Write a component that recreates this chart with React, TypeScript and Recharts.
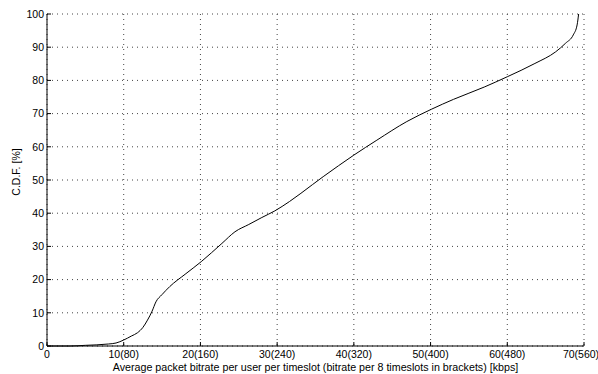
import React from 'react';
import { LineChart, Line, XAxis, YAxis, CartesianGrid, Label } from 'recharts';

// bitrate per user per timeslot [kbps]
const bitrate = [0, 3, 5, 8, 9, 10, 11, 11.8, 12.5, 13.1, 13.7, 14.2, 15, 16, 18, 20.1, 22.8, 24.5, 26.3, 28, 29.7, 31.6, 34.6, 36, 38, 40, 43, 46.9, 50.1, 53, 57, 60, 63.6, 66.3, 67.6, 68.6, 69.1, 69.3];
// C.D.F. [%]
const cdf = [0, 0, 0.2, 0.6, 0.9, 1.8, 3, 4, 5.6, 7.8, 10.5, 13.3, 15.5, 17.9, 21.6, 25.4, 30.9, 34.4, 36.6, 38.7, 40.7, 43.5, 48.6, 51, 54.3, 57.5, 62, 67.6, 71.3, 74.3, 78, 81.1, 85.1, 88.6, 91.2, 93.7, 96.7, 100];

const xTicks = [0, 10, 20, 30, 40, 50, 60, 70];
const xTickLabels = ['0', '10(80)', '20(160)', '30(240)', '40(320)', '50(400)', '60(480)', '70(560)'];
const yTicks = [0, 10, 20, 30, 40, 50, 60, 70, 80, 90, 100];

const data = bitrate.map((x, i) => ({ x, cdf: cdf[i] }));

const font = '"Liberation Sans", Arial, sans-serif';
const tickStyle = { fontSize: 10.5, fill: '#000', fontFamily: font };
const noLabel = () => <g />;

// bottom tick label; the last one is nudged so it stays inside the picture
const XTick = (props: any) => {
    const { x, y, payload } = props;
    const i = xTicks.indexOf(payload.value);
    const shift = i === xTicks.length - 1 ? -3 : 0;
    return (
        <text x={x + shift} y={y + 8} textAnchor="middle" fontSize={10.5} fontFamily={font} fill="#000">
            {xTickLabels[i]}
        </text>
    );
};

const App: React.FC = () => {
    return (
        <div style={{ position: 'absolute', left: 0, top: 0, background: '#fff' }}>
            <LineChart width={598} height={374} data={data} margin={{ top: 14, right: 14, left: 0, bottom: 0 }}>
                <CartesianGrid xAxisId="bottom" yAxisId="left" stroke="#444" strokeDasharray="1 4" />
                <XAxis
                    xAxisId="bottom"
                    dataKey="x"
                    type="number"
                    domain={[0, 70]}
                    ticks={xTicks}
                    height={28}
                    tickSize={-4}
                    tickMargin={8}
                    stroke="#000"
                    tick={<XTick />}
                    interval={0}
                >
                    <Label
                        value="Average packet bitrate per user per timeslot (bitrate per 8 timeslots in brackets) [kbps]"
                        position="insideBottom"
                        offset={3}
                        style={{ fontSize: 10.7, fill: '#000', fontFamily: font }}
                    />
                </XAxis>
                <XAxis xAxisId="top" dataKey="x" type="number" domain={[0, 70]} ticks={xTicks} orientation="top" height={0} mirror tick={noLabel} tickSize={4} stroke="#000" interval={0} />
                <YAxis
                    yAxisId="left"
                    type="number"
                    domain={[0, 100]}
                    ticks={yTicks}
                    width={47}
                    tickSize={-4}
                    tickMargin={7}
                    stroke="#000"
                    tick={tickStyle}
                    interval={0}
                >
                    <Label
                        value="C.D.F. [%]"
                        angle={-90}
                        position="insideLeft"
                        offset={16}
                        dy={-8}
                        style={{ fontSize: 10.5, fill: '#000', fontFamily: font, textAnchor: 'middle' }}
                    />
                </YAxis>
                <YAxis yAxisId="right" type="number" domain={[0, 100]} ticks={yTicks} orientation="right" width={0} mirror tick={noLabel} tickSize={4} stroke="#000" interval={0} />
                <Line
                    xAxisId="bottom"
                    yAxisId="left"
                    type="monotone"
                    dataKey="cdf"
                    stroke="#000"
                    strokeWidth={1}
                    dot={false}
                    isAnimationActive={false}
                />
            </LineChart>
        </div>
    );
};

export default App;
